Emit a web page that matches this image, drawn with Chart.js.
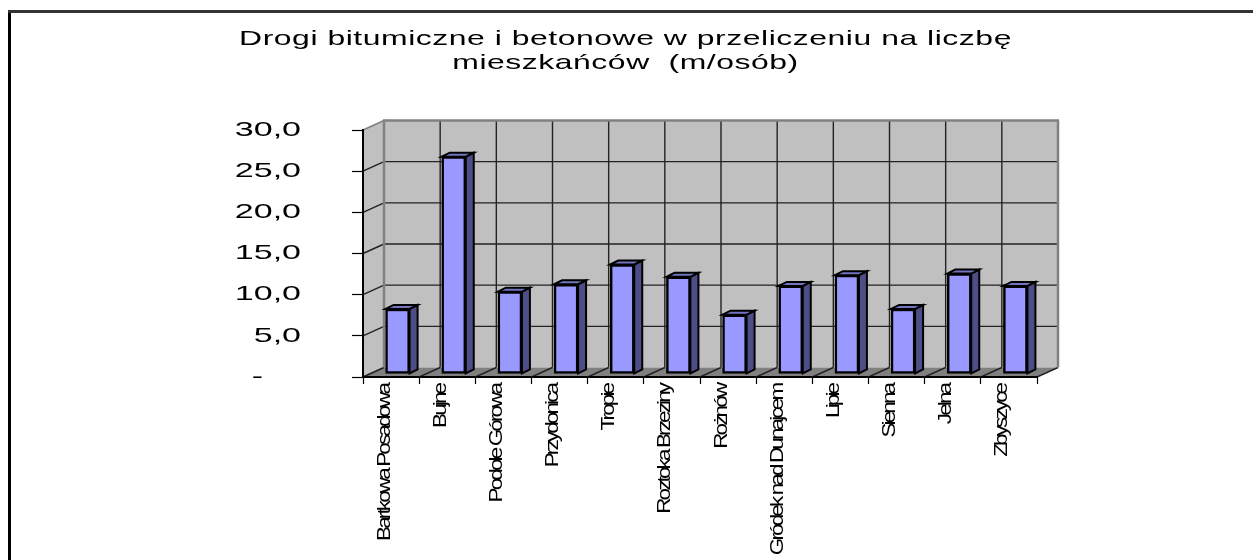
<!DOCTYPE html>
<html>
<head>
<meta charset="utf-8">
<style>
html, body { margin: 0; padding: 0; background: #fff; }
canvas { display: block; }
</style>
<script src="https://cdn.jsdelivr.net/npm/chart.js@4"></script>
</head>
<body>
<canvas id="wykres" width="1253" height="560"></canvas>
<script>
const gminy = ['Bartkowa Posadowa', 'Bujne', 'Podole Górowa', 'Przydonica', 'Tropie', 'Roztoka Brzeziny',
    'Rożnów', 'Gródek nad Dunajcem', 'Lipie', 'Sienna', 'Jelna', 'Zbyszyce'];
const wartosci = [7.9, 26.4, 10.0, 10.9, 13.3, 11.8, 7.2, 10.7, 12.0, 7.9, 12.2, 10.7];
const etykietyY = ['-\u00a0\u00a0\u00a0\u00a0', '5,0', '10,0', '15,0', '20,0', '25,0', '30,0'];
const tytul = ['Drogi bitumiczne i betonowe w przeliczeniu na liczbę', 'mieszkańców  (m/osób)'];

// glebokosc rysunku 3D
const GLEB_X = 21, GLEB_Y = -9.5;
const SLUPEK_X = 6.5, SLUPEK_Y = -3;
const BOK_X = 8, BOK_Y = -4;

function wielokat(ctx, punkty, wypelnienie, obrys, grubosc) {
    ctx.beginPath();
    punkty.forEach((p, i) => i ? ctx.lineTo(p[0], p[1]) : ctx.moveTo(p[0], p[1]));
    ctx.closePath();
    if (wypelnienie) { ctx.fillStyle = wypelnienie; ctx.fill(); }
    if (obrys) { ctx.strokeStyle = obrys; ctx.lineWidth = grubosc; ctx.lineJoin = 'miter'; ctx.stroke(); }
}

function linia(ctx, x1, y1, x2, y2) {
    ctx.beginPath();
    ctx.moveTo(x1, y1);
    ctx.lineTo(x2, y2);
    ctx.stroke();
}

// rozciaga tekst (w oryginale jest znieksztalcony): z punktu (zX, zY) do (doX, doY)
function rozciagnij(ctx, obiekt, metoda, o) {
    if (obiekt['_roz' + metoda]) return;
    obiekt['_roz' + metoda] = true;
    const oryginal = obiekt[metoda];
    obiekt[metoda] = function (...args) {
        ctx.save();
        ctx.translate(o.doX, o.doY);
        ctx.scale(o.skalaX, o.skalaY);
        ctx.translate(-o.zX, -o.zY);
        ctx.letterSpacing = o.odstep;
        oryginal.apply(this, args);
        ctx.restore();
    };
}

const tloWykresu = {
    id: 'tloWykresu',
    beforeDraw(chart) {
        const ctx = chart.ctx;
        const sx = chart.scales.x, sy = chart.scales.y;
        const l = sx.left, r = sx.right, t = sy.top, b = sy.bottom;

        rozciagnij(ctx, chart.titleBlock, 'draw', { zX: 518.5, zY: 0, doX: 625.5, doY: 0, skalaX: 1.52, skalaY: 1, odstep: '0.35px' });
        rozciagnij(ctx, sy, 'drawLabels', { zX: 301, zY: 0, doX: 301, doY: 0, skalaX: 1.62, skalaY: 1, odstep: '0px' });
        rozciagnij(ctx, sx, 'drawLabels', { zX: 0, zY: 381, doX: 0, doY: 381, skalaX: 1, skalaY: 1.25, odstep: '-2.3px' });

        // ramka
        ctx.fillStyle = '#000';
        ctx.fillRect(8, 10, 3, 550);
        ctx.fillStyle = '#333';
        ctx.fillRect(8, 10, 1245, 3);

        // sciany i podloga
        wielokat(ctx, [[l, t], [l + GLEB_X, t + GLEB_Y], [l + GLEB_X, b + GLEB_Y], [l, b]], '#c0c0c0', '#808080', 1.5);
        wielokat(ctx, [[l + GLEB_X, t + GLEB_Y], [r + GLEB_X, t + GLEB_Y], [r + GLEB_X, b + GLEB_Y], [l + GLEB_X, b + GLEB_Y]], '#c0c0c0');
        wielokat(ctx, [[l, b], [l + GLEB_X, b + GLEB_Y], [r + GLEB_X, b + GLEB_Y], [r, b]], '#808080');

        // siatka
        ctx.strokeStyle = '#222';
        ctx.lineWidth = 1.4;
        sy.ticks.forEach(tick => {
            if (tick.value === 0 || tick.value === sy.max) return;
            const y = sy.getPixelForValue(tick.value);
            linia(ctx, l, y, l + GLEB_X, y + GLEB_Y);
            linia(ctx, l + GLEB_X, y + GLEB_Y, r + GLEB_X, y + GLEB_Y);
        });
        gminy.forEach((g, i) => {
            const x = sx.getPixelForValue(i - 0.5);
            if (i > 0) linia(ctx, x + GLEB_X, t + GLEB_Y, x + GLEB_X, b + GLEB_Y);
            linia(ctx, x, b, x + GLEB_X, b + GLEB_Y);
        });
        linia(ctx, r, b, r + GLEB_X, b + GLEB_Y);

        // krawedzie tylnej sciany
        ctx.strokeStyle = '#808080';
        ctx.lineWidth = 2.5;
        linia(ctx, l + GLEB_X - 1, t + GLEB_Y, r + GLEB_X + 1, t + GLEB_Y);
        linia(ctx, l + GLEB_X, t + GLEB_Y, l + GLEB_X, b + GLEB_Y);
        linia(ctx, r + GLEB_X, t + GLEB_Y, r + GLEB_X, b + GLEB_Y);
    },
    beforeDatasetsDraw(chart) {
        const ctx = chart.ctx;
        ctx.save();
        ctx.translate(SLUPEK_X, SLUPEK_Y);
        // boki i wierzch slupkow
        chart.getDatasetMeta(0).data.forEach(el => {
            const x1 = el.x - el.width / 2, x2 = el.x + el.width / 2;
            wielokat(ctx, [[x2, el.y], [x2 + BOK_X, el.y + BOK_Y], [x2 + BOK_X, el.base + BOK_Y], [x2, el.base]], '#4d4d88', '#000', 2);
            wielokat(ctx, [[x1, el.y], [x1 + BOK_X, el.y + BOK_Y], [x2 + BOK_X, el.y + BOK_Y], [x2, el.y]], '#7373c0', '#000', 2);
        });
    },
    afterDatasetsDraw(chart) {
        chart.ctx.restore();
    }
};

new Chart(document.getElementById('wykres'), {
    type: 'bar',
    data: {
        labels: gminy,
        datasets: [{
            data: wartosci,
            backgroundColor: '#9999ff',
            borderColor: '#000',
            borderWidth: 2.5,
            borderSkipped: false,
            barThickness: 24,
            clip: false
        }]
    },
    options: {
        responsive: false,
        animation: false,
        layout: { padding: { left: 0, right: 216, top: 0, bottom: 0 } },
        plugins: {
            legend: { display: false },
            tooltip: { enabled: false },
            title: {
                display: true,
                text: tytul,
                color: '#000',
                font: { family: '"Liberation Sans"', size: 21, weight: 'normal', lineHeight: 1.143 },
                padding: { top: 27, bottom: 55 }
            }
        },
        scales: {
            x: {
                afterFit(s) { s.height = 183; },
                offset: true,
                grid: { offset: true, drawOnChartArea: false, drawTicks: true, tickLength: 7, tickColor: '#000', tickWidth: 1.2 },
                border: { display: true, color: '#000', width: 2 },
                ticks: {
                    autoSkip: false,
                    minRotation: 90,
                    maxRotation: 90,
                    labelOffset: -6.5,
                    padding: 0,
                    color: '#000',
                    font: { family: '"Liberation Sans"', size: 18 }
                }
            },
            y: {
                afterFit(s) { s.width = 363; },
                min: 0,
                max: 30,
                grid: { drawOnChartArea: false, drawTicks: true, tickLength: 11, tickColor: '#000', tickWidth: 1.2 },
                border: { display: true, color: '#000', width: 2 },
                ticks: {
                    stepSize: 5,
                    padding: 51,
                    color: '#000',
                    font: { family: '"Liberation Sans"', size: 21 },
                    callback: (v, i) => etykietyY[i]
                }
            }
        }
    },
    plugins: [tloWykresu]
});
</script>
</body>
</html>
